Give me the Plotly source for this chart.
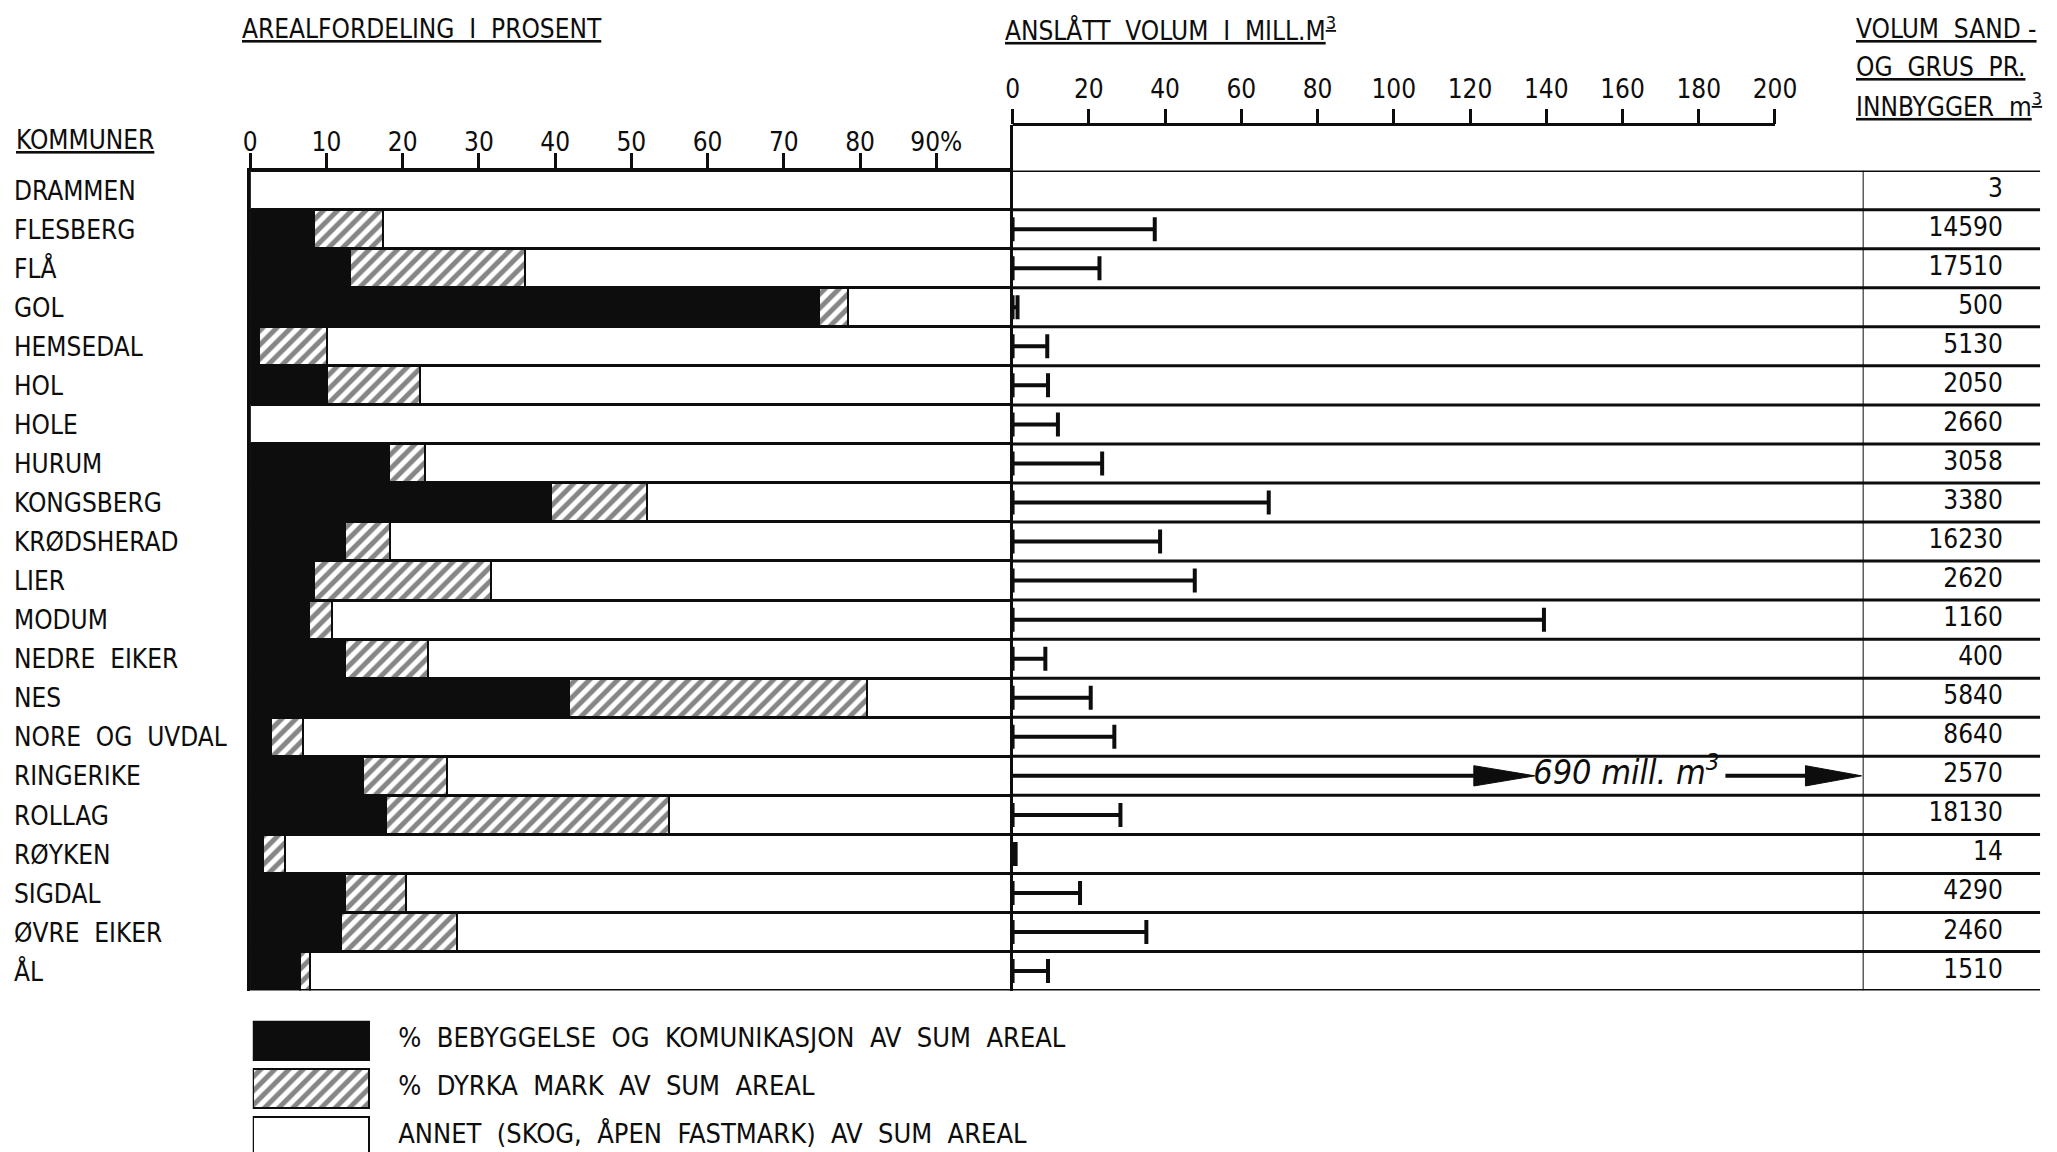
import plotly.graph_objects as go

# ---------------- DATA ----------------
kommuner = ["DRAMMEN", "FLESBERG", "FLÅ", "GOL", "HEMSEDAL", "HOL", "HOLE", "HURUM",
            "KONGSBERG", "KRØDSHERAD", "LIER", "MODUM", "NEDRE  EIKER", "NES",
            "NORE  OG  UVDAL", "RINGERIKE", "ROLLAG", "RØYKEN", "SIGDAL", "ØVRE  EIKER", "ÅL"]
# % bebyggelse og kommunikasjon
bebyggelse = [0, 8.4, 13.1, 74.6, 1.2, 10.1, 0, 18.2, 39.5, 12.5, 8.4, 7.7, 12.5, 41.8,
              2.7, 14.8, 17.9, 1.7, 12.5, 11.9, 6.5]
# % dyrka mark
dyrka = [0, 9.0, 23.0, 3.9, 8.9, 12.2, 0, 4.8, 12.6, 5.9, 23.2, 3.0, 10.9, 39.1,
         4.2, 11.0, 37.1, 2.9, 7.9, 15.2, 1.4]
# anslått volum, mill. m3 (None = no bar; Ringerike drawn as arrow, 690)
volum = [None, 37.3, 22.8, 1.3, 9.1, 9.3, 11.9, 23.5, 67.2, 38.7, 47.8, 139.4, 8.6, 20.5,
         26.7, None, 28.3, 0.8, 17.7, 35.1, 9.3]
ringerike_volum = 690
per_innbygger = ["3", "14590", "17510", "500", "5130", "2050", "2660", "3058", "3380", "16230",
                 "2620", "1160", "400", "5840", "8640", "2570", "18130", "14", "4290", "2460", "1510"]
pct_ticks = [0, 10, 20, 30, 40, 50, 60, 70, 80, 90]
pct_ticktext = ["0", "10", "20", "30", "40", "50", "60", "70", "80", "90%"]
vol_ticks = [0, 20, 40, 60, 80, 100, 120, 140, 160, 180, 200]
legend_labels = ["%  BEBYGGELSE  OG  KOMUNIKASJON  AV  SUM  AREAL",
                 "%  DYRKA  MARK  AV  SUM  AREAL",
                 "ANNET  (SKOG,  ÅPEN  FASTMARK)  AV  SUM  AREAL"]

# ---------------- LAYOUT GEOMETRY (pixels) ----------------
W, H = 2057, 1152
ROW_TOP, ROW_BOT = 170.6, 990.6
MID_AXIS_Y = 124.6
X_L0, X_L1, X_M1, X_R1 = 244, 1009, 1862, 2040
VOL_PX = (1774 - 1009) / 200.0
VOL_MAX = (X_M1 - X_L1) / VOL_PX
LG_X0, LG_BOX_W, LG_X1 = 246.6, 116.8, 1300
n = len(kommuner)
row_h = (ROW_BOT - ROW_TOP) / n
extra = (ROW_TOP - MID_AXIS_Y) / row_h
idx = list(range(n))

FONT = "DejaVu Sans Condensed, DejaVu Sans, sans-serif"
FS = 26
BLACK = "#0d0d0d"

def px(x):
    return x / W

def py(y):
    return 1 - y / H

annet = [100 - a - b for a, b in zip(bebyggelse, dyrka)]
hatch = dict(shape="/", fgcolor=BLACK, bgcolor="white", size=10, solidity=0.5)

fig = go.Figure()

# left stacked bars
bar_line = dict(color=BLACK, width=2.5)
fig.add_trace(go.Bar(y=idx, x=bebyggelse, orientation="h", width=1,
                     marker=dict(color=BLACK, line=bar_line), xaxis="x", yaxis="y"))
fig.add_trace(go.Bar(y=idx, x=dyrka, orientation="h", width=1,
                     marker=dict(color="white", line=bar_line, pattern=hatch),
                     xaxis="x", yaxis="y"))
fig.add_trace(go.Bar(y=idx, x=annet, orientation="h", width=1,
                     marker=dict(color="white", line=bar_line), xaxis="x", yaxis="y"))

# middle volume bars (line with end tick)
fig.add_trace(go.Scatter(
    x=volum, y=idx, mode="markers", marker=dict(size=1, color=BLACK, opacity=0),
    error_x=dict(type="data", symmetric=False, array=[0] * n,
                 arrayminus=[v if v is not None else 0 for v in volum],
                 thickness=4, width=12, color=BLACK),
    xaxis="x2", yaxis="y2", cliponaxis=False))

# Ringerike arrow (value off-scale)
ri = kommuner.index("RINGERIKE")
A1_END, A1_TIP = 121.0, 137.0
TXT_X = 161.0
A2_START, A2_END, A2_TIP = 187.0, 208.0, VOL_MAX - 0.3
HH = 0.26
for x0, x1, tip in [(0, A1_END, A1_TIP), (A2_START, A2_END, A2_TIP)]:
    fig.add_trace(go.Scatter(x=[x0, x1], y=[ri, ri], mode="lines",
                             line=dict(color=BLACK, width=4), xaxis="x2", yaxis="y2"))
    fig.add_trace(go.Scatter(x=[x1, tip, x1, x1], y=[ri - HH, ri, ri + HH, ri - HH],
                             mode="lines", fill="toself", fillcolor=BLACK,
                             line=dict(color=BLACK, width=1), xaxis="x2", yaxis="y2"))
fig.add_trace(go.Scatter(x=[TXT_X], y=[ri], mode="text",
                         text=[f"<i>{ringerike_volum} mill. m<sup>3</sup></i>"],
                         textposition="middle center",
                         textfont=dict(family=FONT, size=34, color=BLACK),
                         xaxis="x2", yaxis="y2"))

# right column numbers
fig.add_trace(go.Scatter(x=[0.79] * n, y=idx, mode="text", text=per_innbygger,
                         textposition="middle left",
                         textfont=dict(family=FONT, size=FS, color=BLACK),
                         xaxis="x3", yaxis="y", cliponaxis=False))

# category labels
fig.add_trace(go.Scatter(x=[0] * n, y=[i + 0.08 for i in idx], mode="text", text=kommuner,
                         textposition="middle right",
                         textfont=dict(family=FONT, size=FS, color=BLACK),
                         xaxis="x5", yaxis="y", cliponaxis=False))

# legend boxes
lg_line = dict(color=BLACK, width=2)
fig.add_trace(go.Bar(y=[0], x=[1], orientation="h", width=0.82,
                     marker=dict(color=BLACK, line=lg_line), xaxis="x4", yaxis="y4"))
fig.add_trace(go.Bar(y=[1], x=[1], orientation="h", width=0.82,
                     marker=dict(color="white", line=lg_line, pattern=hatch),
                     xaxis="x4", yaxis="y4"))
fig.add_trace(go.Bar(y=[2], x=[1], orientation="h", width=0.82,
                     marker=dict(color="white", line=lg_line), xaxis="x4", yaxis="y4"))
fig.add_trace(go.Scatter(x=[1.25] * 3, y=[0, 1, 2], mode="text", text=legend_labels,
                         textposition="middle right",
                         textfont=dict(family=FONT, size=27, color=BLACK),
                         xaxis="x4", yaxis="y4", cliponaxis=False))

# shapes: row lines across middle + right columns, right divider, middle axis line
shapes = []
for i in range(n + 1):
    shapes.append(dict(type="line", xref="paper", yref="y", x0=px(X_L1), x1=px(X_R1),
                       y0=i - 0.5, y1=i - 0.5, line=dict(color=BLACK, width=3)))
shapes.append(dict(type="line", xref="x3", yref="y", x0=0, x1=0, y0=-0.5, y1=n - 0.5,
                   line=dict(color=BLACK, width=2)))
shapes.append(dict(type="line", xref="x2", yref="paper", x0=0, x1=200,
                   y0=py(MID_AXIS_Y), y1=py(MID_AXIS_Y), line=dict(color=BLACK, width=3)))

tickfont = dict(family=FONT, size=FS, color=BLACK)
ann_font = dict(family=FONT, size=FS, color=BLACK)
annotations = [
    dict(text="<u>AREALFORDELING  I  PROSENT</u>", x=px(234), y=py(29)),
    dict(text="<u>ANSLÅTT  VOLUM  I  MILL.M<sup>3</sup></u>", x=px(999), y=py(29)),
    dict(text="<u>VOLUM  SAND -</u>", x=px(1853), y=py(29)),
    dict(text="<u>OG  GRUS  PR.</u>", x=px(1853), y=py(67)),
    dict(text="<u>INNBYGGER  m<sup>3</sup></u>", x=px(1853), y=py(105)),
    dict(text="<u>KOMMUNER</u>", x=px(7), y=py(140)),
]
for a in annotations:
    a.update(xref="paper", yref="paper", xanchor="left", yanchor="middle",
             showarrow=False, font=ann_font)

fig.update_layout(
    width=W, height=H, margin=dict(l=0, r=0, t=0, b=0),
    paper_bgcolor="white", plot_bgcolor="white", showlegend=False,
    barmode="stack", bargap=0,
    font=dict(family=FONT, color=BLACK),
    shapes=shapes, annotations=annotations,
    xaxis=dict(domain=[px(X_L0), px(X_L1)], range=[0, 100], side="top", anchor="y",
               tickvals=pct_ticks, ticktext=pct_ticktext, ticks="outside", ticklen=15,
               tickwidth=2.5, tickcolor=BLACK, showline=True, linewidth=3, linecolor=BLACK,
               showgrid=False, zeroline=False, tickfont=tickfont, fixedrange=True,
               ticklabelstandoff=-9),
    yaxis=dict(domain=[py(ROW_BOT), py(ROW_TOP)], range=[n - 0.5, -0.5], anchor="x",
               showticklabels=False, ticks="", showgrid=False, zeroline=False,
               showline=True, linewidth=3, linecolor=BLACK, fixedrange=True),
    xaxis2=dict(domain=[px(X_L1), px(X_M1)], range=[0, VOL_MAX], side="top", anchor="y2",
                tickvals=vol_ticks, ticks="outside", ticklen=15, tickwidth=2.5,
                tickcolor=BLACK, showline=False, showgrid=False, zeroline=False,
                tickfont=tickfont, fixedrange=True),
    yaxis2=dict(domain=[py(ROW_BOT), py(MID_AXIS_Y)], range=[n - 0.5, -0.5 - extra],
                anchor="x2", showticklabels=False, ticks="", showgrid=False, zeroline=False,
                showline=True, linewidth=3, linecolor=BLACK, fixedrange=True),
    xaxis3=dict(domain=[px(X_M1), px(X_R1)], range=[0, 1], anchor="y", visible=False),
    xaxis4=dict(domain=[px(LG_X0), px(LG_X1)], range=[0, (LG_X1 - LG_X0) / LG_BOX_W],
                anchor="y4", visible=False),
    yaxis4=dict(domain=[0, py(1020.7)], range=[0.41 + (H - 1020.7) / 48.0 - 0.82, -0.41],
                anchor="x4", visible=False),
    xaxis5=dict(domain=[px(7), px(240)], range=[0, 1], anchor="y", visible=False),
)

fig.write_html("out.html", config={"displayModeBar": False},
               post_script="document.body.style.margin='0px';"
                           "document.body.style.overflow='hidden';")
